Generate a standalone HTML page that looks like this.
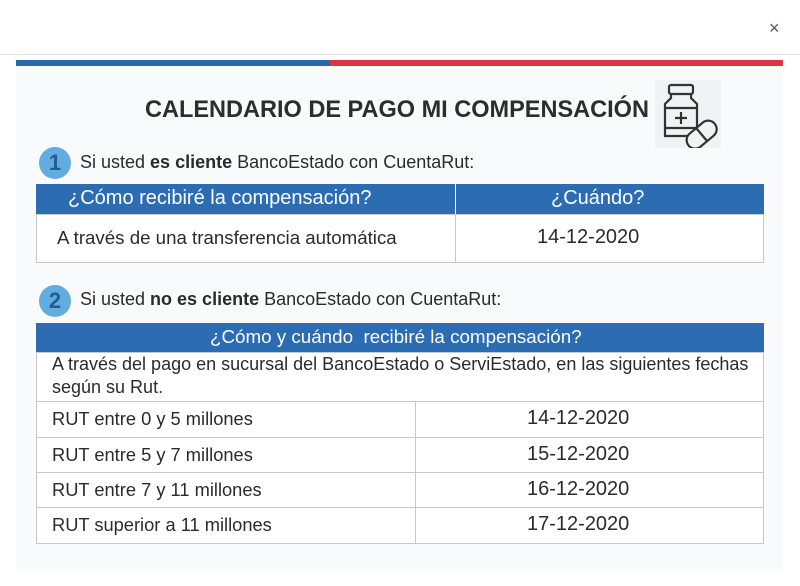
<!DOCTYPE html>
<html><head><meta charset="utf-8"><style>
*{margin:0;padding:0;box-sizing:border-box}
body{width:800px;height:586px;background:#fff;position:relative;overflow:hidden;font-family:"Liberation Sans",sans-serif;color:#2b2b2b}
.a{position:absolute}
.t{position:absolute;white-space:nowrap;transform-origin:0 50%}
.hdr{background:#2b6cb3;color:#fff}
.cell{position:absolute;border:1px solid #c9c9c9;background:#fff}
.circ{position:absolute;width:32px;height:32px;border-radius:50%;background:#62acdf;color:#1f5e99;font-weight:bold;font-size:22px;text-align:center;line-height:32px}
</style></head><body>
<div class="a" style="left:0;top:54px;width:800px;height:1px;background:#e2e2e2"></div>
<div class="t" style="left:769px;top:18px;font-size:18px;color:#555">×</div>
<div class="a" style="left:16px;top:60px;width:314px;height:6px;background:#2d65aa"></div>
<div class="a" style="left:330px;top:60px;width:453px;height:6px;background:#d63a40"></div>
<div class="a" style="left:16px;top:66px;width:767px;height:505px;background:#f9fafb"></div>

<div class="t" style="left:145px;top:96px;font-size:24px;font-weight:bold;color:#2d2d2d;transform:scaleX(0.98)">CALENDARIO DE PAGO MI COMPENSACIÓN</div>
<svg class="a" style="left:655px;top:80px" width="66" height="68" viewBox="0 0 66 68">
<rect width="66" height="68" fill="#f1f2f4"/>
<g fill="none" stroke="#333" stroke-width="2.2">
<rect x="14" y="5" width="24" height="9" rx="2"/>
<path d="M16 14 v4 l-6 6 v32 h32 v-32 l-6-6 v-4"/>
<path d="M10 28 h32 M10 48 h32"/>
<path d="M26 32 v12 M20 38 h12"/>
<g transform="rotate(-40 47 55)"><rect x="30" y="46" width="34" height="17" rx="8.5" fill="#f1f2f4"/><path d="M47 46 v17"/></g>
</g></svg>

<div class="circ" style="left:39px;top:147px">1</div>
<div class="t" style="left:80px;top:152px;font-size:18px">Si usted <b>es cliente</b> BancoEstado con CuentaRut:</div>

<div class="a hdr" style="left:36px;top:184px;width:728px;height:30px"></div>
<div class="a" style="left:455px;top:184px;width:1px;height:30px;background:#fff"></div>
<div class="t" style="left:68px;top:187px;font-size:20px;color:#fff">¿Cómo recibiré la compensación?</div>
<div class="t" style="left:551px;top:187px;font-size:20px;color:#fff">¿Cuándo?</div>
<div class="cell" style="left:36px;top:214px;width:420px;height:49px"></div>
<div class="cell" style="left:455px;top:214px;width:309px;height:49px"></div>
<div class="t" style="left:57px;top:227px;font-size:18.7px">A través de una transferencia automática</div>
<div class="t" style="left:537px;top:226px;font-size:20px">14-12-2020</div>

<div class="circ" style="left:39px;top:285px">2</div>
<div class="t" style="left:80px;top:289px;font-size:18px">Si usted <b>no es cliente</b> BancoEstado con CuentaRut:</div>

<div class="a hdr" style="left:36px;top:323px;width:728px;height:30px"></div>
<div class="t" style="left:210px;top:326px;font-size:18.8px;color:#fff">¿Cómo y cuándo &nbsp;recibiré la compensación?</div>
<div class="cell" style="left:36px;top:352px;width:728px;height:50px"></div>
<div class="t" style="left:52px;top:353px;font-size:18px;line-height:23px">A través del pago en sucursal del BancoEstado o ServiEstado, en las siguientes fechas<br>según su Rut.</div>

<div class="cell" style="left:36px;top:401px;width:380px;height:37px"></div><div class="cell" style="left:415px;top:401px;width:349px;height:37px"></div>
<div class="cell" style="left:36px;top:437px;width:380px;height:36px"></div><div class="cell" style="left:415px;top:437px;width:349px;height:36px"></div>
<div class="cell" style="left:36px;top:472px;width:380px;height:36px"></div><div class="cell" style="left:415px;top:472px;width:349px;height:36px"></div>
<div class="cell" style="left:36px;top:507px;width:380px;height:37px"></div><div class="cell" style="left:415px;top:507px;width:349px;height:37px"></div>

<div class="t" style="left:52px;top:408px;font-size:18.3px">RUT entre 0 y 5 millones</div>
<div class="t" style="left:527px;top:407px;font-size:20px">14-12-2020</div>
<div class="t" style="left:52px;top:444px;font-size:18.3px">RUT entre 5 y 7 millones</div>
<div class="t" style="left:527px;top:443px;font-size:20px">15-12-2020</div>
<div class="t" style="left:52px;top:479px;font-size:18.3px">RUT entre 7 y 11 millones</div>
<div class="t" style="left:527px;top:478px;font-size:20px">16-12-2020</div>
<div class="t" style="left:52px;top:514px;font-size:18.3px">RUT superior a 11 millones</div>
<div class="t" style="left:527px;top:513px;font-size:20px">17-12-2020</div>
</body></html>
